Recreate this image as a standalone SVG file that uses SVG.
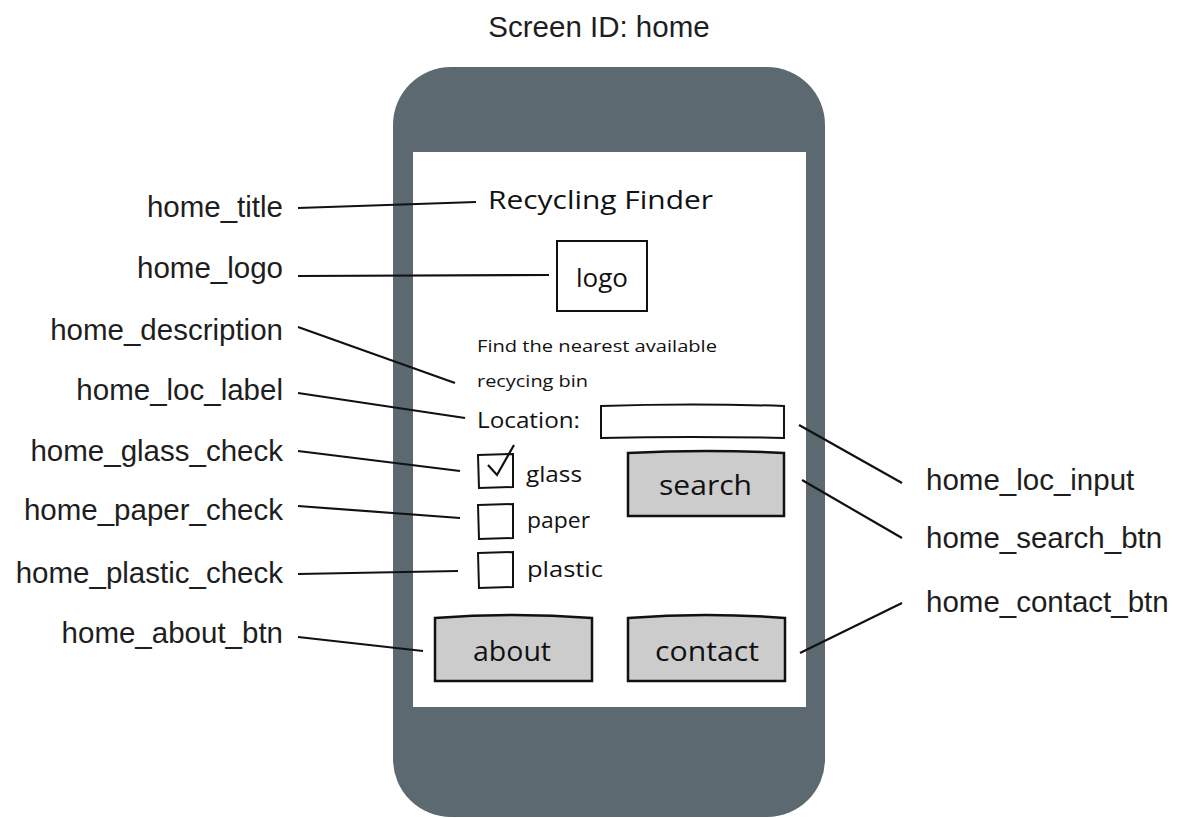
<svg xmlns="http://www.w3.org/2000/svg" width="1182" height="818" viewBox="0 0 1182 818">
<style>
.lbl{font-family:"Liberation Sans",Arial,sans-serif;font-size:29.5px;fill:#1e1e1e}
.lft{text-anchor:end}
.ui{font-family:"Comic Sans MS","Open Sans","Noto Sans",sans-serif;fill:#111}
.box{fill:#fff;stroke:#111;stroke-width:2}
.btn{fill:#ccc;stroke:#111;stroke-width:2.5}
.con{stroke:#111;stroke-width:2.2;fill:none}
</style>
<rect width="1182" height="818" fill="#fff"/>
<text class="lbl" x="599" y="37" text-anchor="middle">Screen ID: home</text>
<g id="phone">
<rect x="393" y="67" width="432" height="750" rx="58" ry="58" fill="#5d6970"/>
<rect x="413" y="152" width="393" height="555" fill="#fff"/>
</g>
<g id="home_title"><text class="ui" x="488" y="209" font-size="26" textLength="225" lengthAdjust="spacingAndGlyphs">Recycling Finder</text></g>
<g id="home_logo"><rect class="box" x="557" y="241" width="90" height="70"/><text class="ui" x="576" y="287" font-size="25" textLength="52" lengthAdjust="spacingAndGlyphs">logo</text></g>
<g id="home_description"><text class="ui" x="477" y="352" font-size="17" textLength="240" lengthAdjust="spacingAndGlyphs">Find the nearest available</text><text class="ui" x="477" y="387" font-size="17" textLength="111" lengthAdjust="spacingAndGlyphs">recycing bin</text></g>
<g id="home_loc_label"><text class="ui" x="477" y="428" font-size="21.5" textLength="103" lengthAdjust="spacingAndGlyphs">Location:</text></g>
<g id="home_loc_input"><path class="box" d="M601,406 Q692,403 784,406 L784,438 Q692,436 601,438 Z"/></g>
<g id="home_glass_check"><path class="box" d="M478,455 L513,454 L513,487 L479,488 Z"/><path class="con" d="M488,465 L497,475 L514,445"/><text class="ui" x="526" y="482" font-size="21.5" textLength="56" lengthAdjust="spacingAndGlyphs">glass</text></g>
<g id="home_paper_check"><path class="box" d="M478,505 L513,504 L513,538 L479,539 Z"/><text class="ui" x="527" y="528" font-size="21.5" textLength="63" lengthAdjust="spacingAndGlyphs">paper</text></g>
<g id="home_plastic_check"><path class="box" d="M478,553 L513,552 L513,587 L479,588 Z"/><text class="ui" x="527" y="577" font-size="21.5" textLength="76" lengthAdjust="spacingAndGlyphs">plastic</text></g>
<g id="home_search_btn"><path class="btn" d="M628,453 Q706,449 784,453 L784,516 L628,516 Z"/><text class="ui" x="659" y="495" font-size="28" textLength="93" lengthAdjust="spacingAndGlyphs">search</text></g>
<g id="home_about_btn"><path class="btn" d="M435,618 Q513,612 592,618 L592,681 L435,681 Z"/><text class="ui" x="473" y="661" font-size="28" textLength="78" lengthAdjust="spacingAndGlyphs">about</text></g>
<g id="home_contact_btn"><path class="btn" d="M628,618 Q706,612 785,618 L785,681 L628,681 Z"/><text class="ui" x="655" y="661" font-size="28" textLength="104" lengthAdjust="spacingAndGlyphs">contact</text></g>
<g id="labels">
<text class="lbl lft" x="283" y="217">home_title</text>
<text class="lbl lft" x="283" y="278">home_logo</text>
<text class="lbl lft" x="283" y="340">home_description</text>
<text class="lbl lft" x="283" y="400">home_loc_label</text>
<text class="lbl lft" x="283" y="461">home_glass_check</text>
<text class="lbl lft" x="283" y="520">home_paper_check</text>
<text class="lbl lft" x="283" y="583">home_plastic_check</text>
<text class="lbl lft" x="283" y="643">home_about_btn</text>
<text class="lbl" x="926" y="490">home_loc_input</text>
<text class="lbl" x="926" y="548">home_search_btn</text>
<text class="lbl" x="926" y="612">home_contact_btn</text>
</g>
<g id="connectors">
<path class="con" d="M298,208 L476,202"/>
<path class="con" d="M298,276 L549,275"/>
<path class="con" d="M298,327 L455,383"/>
<path class="con" d="M298,393 L465,418"/>
<path class="con" d="M298,451 L460,471"/>
<path class="con" d="M298,506 L460,518"/>
<path class="con" d="M298,574 L458,571"/>
<path class="con" d="M298,637 L423,651"/>
<path class="con" d="M799,425 L902,483"/>
<path class="con" d="M802,480 L902,538"/>
<path class="con" d="M800,653 L902,603"/>
</g>
</svg>
